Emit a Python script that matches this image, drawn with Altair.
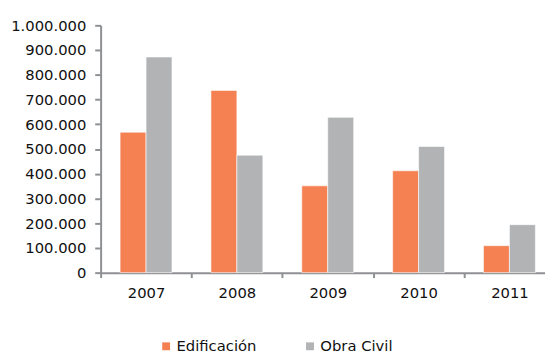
import altair as alt
import pandas as pd

years = ["2007", "2008", "2009", "2010", "2011"]
edificacion = [568000, 737000, 351000, 412000, 109000]
obra_civil = [872000, 475000, 628000, 510000, 194000]
series = ["Edificación", "Obra Civil"]
colors = ["#F58153", "#B1B3B5"]
y_ticks = [0, 100000, 200000, 300000, 400000, 500000, 600000, 700000, 800000, 900000, 1000000]

rows = []
for i, y in enumerate(years):
    rows.append({"year": y, "serie": series[0], "value": edificacion[i]})
    rows.append({"year": y, "serie": series[1], "value": obra_civil[i]})
df = pd.DataFrame(rows)

axis_color = "#8E9093"
font = "DejaVu Sans"
fs = 15

chart = alt.Chart(df).mark_bar(stroke="white", strokeWidth=0.6).encode(
    x=alt.X(
        "year:N",
        sort=years,
        scale=alt.Scale(range=[0, 461], paddingInner=0, paddingOuter=0),
        axis=alt.Axis(
            title=None, labelAngle=0, tickBand="extent", tickSize=5, tickWidth=2,
            tickColor=axis_color, domainColor=axis_color, domainWidth=2,
            labelFontSize=fs, labelFont=font, labelColor="#111111", labelPadding=8,
        ),
    ),
    xOffset=alt.XOffset("serie:N", sort=series, scale=alt.Scale(paddingOuter=0.75, paddingInner=0)),
    y=alt.Y(
        "value:Q",
        scale=alt.Scale(domain=[0, 1000000], nice=False),
        axis=alt.Axis(
            title=None, values=y_ticks, grid=False, tickSize=6, tickWidth=2,
            tickColor=axis_color, domainColor=axis_color, domainWidth=2,
            labelFontSize=fs, labelFont=font, labelColor="#111111", labelPadding=9,
            labelExpr="replace(replace(format(datum.value, ','), ',', '.'), ',', '.')",
        ),
    ),
    color=alt.Color(
        "serie:N",
        sort=series,
        scale=alt.Scale(domain=series, range=colors),
        legend=alt.Legend(
            title=None, orient="none", legendX=59, legendY=318, direction="horizontal",
            symbolType="square", symbolSize=64, symbolStrokeWidth=0,
            labelFontSize=fs, labelFont=font, labelColor="#111111",
            columnPadding=46, labelOffset=3,
        ),
    ),
).properties(
    width=451,
    height=251,
    autosize=alt.AutoSizeParams(type="none"),
    padding={"left": 94, "top": 15, "right": 0, "bottom": 82},
).configure_view(stroke=None)

chart.save("out.html", embed_options={"renderer": "svg", "actions": False})
